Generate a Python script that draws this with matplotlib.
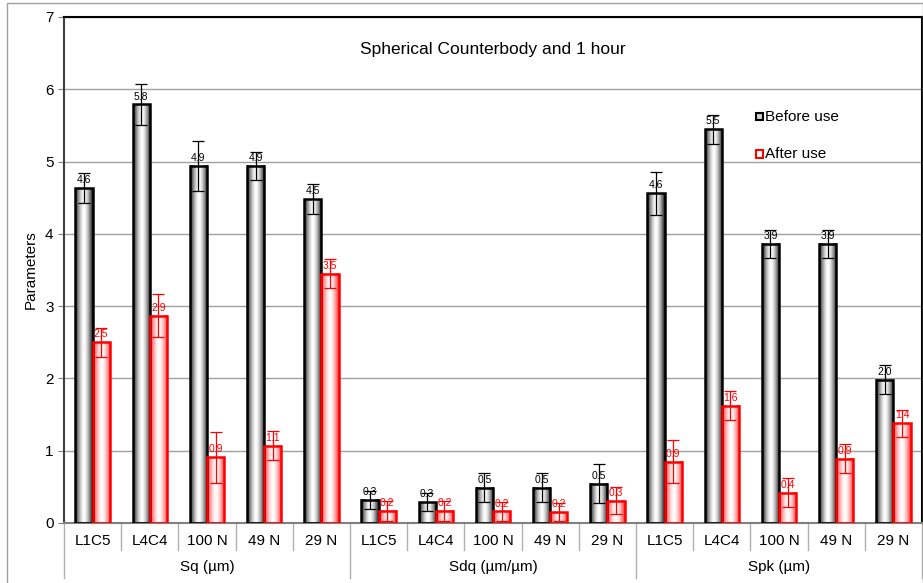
import numpy as np
import matplotlib
matplotlib.use("Agg")
import matplotlib.pyplot as plt
from matplotlib.patches import Rectangle

plt.rcParams['font.family'] = ['Liberation Sans', 'DejaVu Sans']

# data
groups = ["Sq (\u00b5m)", "Sdq (\u00b5m/\u00b5m)", "Spk (\u00b5m)"]
samples = ["L1C5", "L4C4", "100 N", "49 N", "29 N"]

before = [4.63, 5.79, 4.94, 4.94, 4.48,
          0.32, 0.29, 0.49, 0.49, 0.54,
          4.56, 5.45, 3.86, 3.86, 1.98]
before_err = [0.21, 0.29, 0.35, 0.19, 0.21,
              0.12, 0.12, 0.20, 0.20, 0.27,
              0.30, 0.20, 0.20, 0.20, 0.20]
before_lbl = ["4.6", "5.8", "4.9", "4.9", "4.5",
              "0.3", "0.3", "0.5", "0.5", "0.5",
              "4.6", "5.5", "3.9", "3.9", "2.0"]

after = [2.50, 2.87, 0.91, 1.07, 3.45,
         0.17, 0.17, 0.16, 0.15, 0.31,
         0.85, 1.62, 0.42, 0.89, 1.38]
after_err = [0.20, 0.30, 0.35, 0.20, 0.20,
             0.14, 0.14, 0.13, 0.12, 0.19,
             0.30, 0.20, 0.20, 0.20, 0.19]
after_lbl = ["2.5", "2.9", "0.9", "1.1", "3.5",
             "0.2", "0.2", "0.2", "0.2", "0.3",
             "0.9", "1.6", "0.4", "0.9", "1.4"]

W, H = 923, 583
fig = plt.figure(figsize=(W / 100, H / 100), dpi=100)
ax = fig.add_axes([64 / W, (H - 523) / H, (922 - 64) / W, (523 - 17) / H])

n = len(before)
x = np.arange(n)
bw = 0.3
xb = x + 0.5 - bw / 2
xa = x + 0.5 + bw / 2

# cylinder-ish gradient fills
t = np.linspace(-1, 1, 64)
shade = np.abs(t) ** 1.6
grey = np.ones((1, 64, 3)) * (1 - 0.95 * shade)[None, :, None]
pink = np.ones((1, 64, 3))
pink[0, :, 1] = 1 - 0.85 * shade
pink[0, :, 2] = 1 - 0.85 * shade

for i in range(n):
    ax.imshow(grey, extent=(xb[i] - bw / 2, xb[i] + bw / 2, 0, before[i]),
              aspect='auto', zorder=2, interpolation='bilinear')
    ax.imshow(pink, extent=(xa[i] - bw / 2, xa[i] + bw / 2, 0, after[i]),
              aspect='auto', zorder=2, interpolation='bilinear')

ax.bar(xb, before, bw, facecolor='none', edgecolor='black', linewidth=1.8, zorder=3)
ax.bar(xa, after, bw, facecolor='none', edgecolor='#ff0000', linewidth=1.8, zorder=3)
ax.errorbar(xb, before, yerr=before_err, fmt='none', ecolor='black',
            elinewidth=0.9, capsize=4, capthick=0.9, zorder=4)
ax.errorbar(xa, after, yerr=after_err, fmt='none', ecolor='#ff0000',
            elinewidth=0.9, capsize=4, capthick=0.9, zorder=4)

for i in range(n):
    ax.text(xb[i], before[i] + 0.04, before_lbl[i], ha='center', va='bottom',
            fontsize=7.5, color='black', zorder=5)
    ax.text(xa[i], after[i] + 0.04, after_lbl[i], ha='center', va='bottom',
            fontsize=7.5, color='#ff0000', zorder=5)

ax.set_xlim(0, n)
ax.set_ylim(0, 7)
ax.set_yticks(range(8))
ax.tick_params(axis='y', labelsize=11, length=4, color='#808080')
ax.set_xticks([])
ax.yaxis.grid(True, color='#a0a0a0', linewidth=1)
ax.set_axisbelow(True)
for s in ax.spines.values():
    s.set_color('black')
    s.set_linewidth(1.5)
ax.spines['bottom'].set_color('#808080')
ax.spines['left'].set_color('#404040')
ax.set_ylabel("Parameters", fontsize=11, labelpad=5)

# two-level category axis
tr = ax.get_xaxis_transform()
for i in range(n):
    ax.text(i + 0.5, -0.036, samples[i % 5], transform=tr, ha='center',
            va='center', fontsize=11)
for i in range(n + 1):
    y0 = -0.108 if i % 5 == 0 else -0.053
    ax.plot([i, i], [0, y0], transform=tr, color='#b0b0b0', lw=1, clip_on=False)
for g, name in enumerate(groups):
    ax.text(g * 5 + 2.5, -0.086, name, transform=tr, ha='center',
            va='center', fontsize=11)

ax.text(0.5, 0.935, "Spherical Counterbody and 1 hour", transform=ax.transAxes,
        ha='center', va='center', fontsize=12.5)

# legend entries as in the original
ax.add_patch(Rectangle((0.807, 0.796), 0.0075, 0.015, transform=ax.transAxes,
                       facecolor='#d0d0d0', edgecolor='black', lw=1.5, zorder=6))
ax.text(0.817, 0.803, "Before use", transform=ax.transAxes, va='center', fontsize=11)
ax.add_patch(Rectangle((0.807, 0.722), 0.0075, 0.015, transform=ax.transAxes,
                       facecolor='white', edgecolor='#ff0000', lw=1.5, zorder=6))
ax.text(0.817, 0.729, "After use", transform=ax.transAxes, va='center', fontsize=11)

# outer chart border
fig.patches.append(Rectangle((7 / W, -0.01), (W - 7) / W, (H - 3) / H + 0.01,
                             transform=fig.transFigure, fill=False,
                             edgecolor='#a0a0a0', lw=1))

fig.savefig("out.png", dpi=100)
